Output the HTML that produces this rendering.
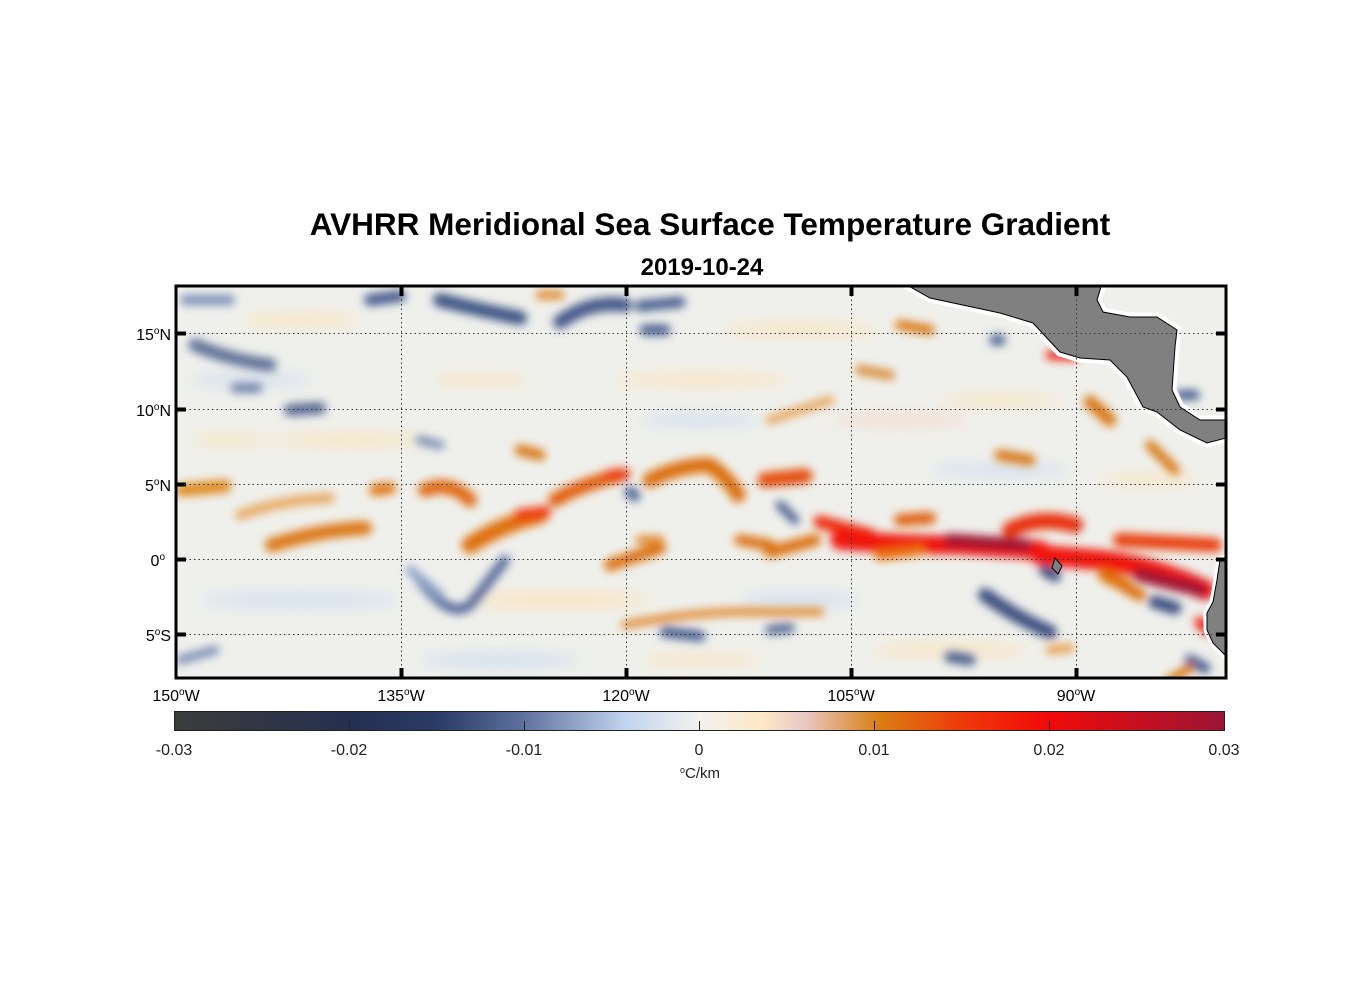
<!DOCTYPE html>
<html><head><meta charset="utf-8"><style>
html,body{margin:0;padding:0;background:#fff;}
svg{display:block;font-family:"Liberation Sans",Arial,sans-serif;}
</style></head><body>
<svg width="1356" height="1000" viewBox="0 0 1356 1000" xmlns="http://www.w3.org/2000/svg">
<defs>
<clipPath id="mc"><rect x="176" y="286" width="1050" height="392"/></clipPath>
<filter id="b1" x="-20%" y="-20%" width="140%" height="140%"><feGaussianBlur stdDeviation="4.5"/></filter>
<filter id="b2" x="-20%" y="-20%" width="140%" height="140%"><feGaussianBlur stdDeviation="7"/></filter>
<linearGradient id="cb" x1="0" x2="1" y1="0" y2="0">
<stop offset="0" stop-color="#3c3c3c"/>
<stop offset="0.17" stop-color="#253050"/>
<stop offset="0.25" stop-color="#2a3b66"/>
<stop offset="0.33" stop-color="#5d6f9c"/>
<stop offset="0.43" stop-color="#c2d4ee"/>
<stop offset="0.5" stop-color="#f2f2ee"/>
<stop offset="0.56" stop-color="#fde7c6"/>
<stop offset="0.6" stop-color="#e8c8c4"/>
<stop offset="0.67" stop-color="#d98014"/>
<stop offset="0.75" stop-color="#ee3a0a"/>
<stop offset="0.83" stop-color="#f20a0a"/>
<stop offset="1" stop-color="#9b1535"/>
</linearGradient>
</defs>
<text x="710" y="235" text-anchor="middle" font-size="31.5" font-weight="bold">AVHRR Meridional Sea Surface Temperature Gradient</text>
<text x="702" y="275" text-anchor="middle" font-size="24" font-weight="bold">2019-10-24</text>
<g clip-path="url(#mc)">
<rect x="176" y="286" width="1050" height="392" fill="#eff0ec"/>
<g filter="url(#b2)" opacity="0.7">
<ellipse cx="300" cy="320" rx="60" ry="7" fill="#fde2b8"/>
<ellipse cx="350" cy="440" rx="80" ry="7" fill="#fde2b8"/>
<ellipse cx="700" cy="380" rx="90" ry="7" fill="#fde2b8"/>
<ellipse cx="560" cy="600" rx="90" ry="9" fill="#fde2b8"/>
<ellipse cx="800" cy="330" rx="80" ry="7" fill="#fde2b8"/>
<ellipse cx="900" cy="420" rx="70" ry="7" fill="#f4d8c8"/>
<ellipse cx="300" cy="600" rx="100" ry="7" fill="#c8d8f0"/>
<ellipse cx="500" cy="660" rx="80" ry="7" fill="#c8d8f0"/>
<ellipse cx="800" cy="600" rx="60" ry="7" fill="#c8d8f0"/>
<ellipse cx="700" cy="420" rx="60" ry="6" fill="#c8d8f0"/>
<ellipse cx="1000" cy="470" rx="70" ry="6" fill="#c8d8f0"/>
<ellipse cx="250" cy="380" rx="60" ry="6" fill="#c8d8f0"/>
<ellipse cx="950" cy="650" rx="80" ry="7" fill="#fde2b8"/>
<ellipse cx="230" cy="440" rx="40" ry="6" fill="#fde2b8"/>
<ellipse cx="480" cy="380" rx="50" ry="6" fill="#fde2b8"/>
<ellipse cx="1000" cy="400" rx="60" ry="6" fill="#fde2b8"/>
<ellipse cx="1150" cy="480" rx="50" ry="6" fill="#fde2b8"/>
<ellipse cx="700" cy="660" rx="60" ry="6" fill="#fde2b8"/>
</g>
<g filter="url(#b1)" fill="none" stroke-linecap="round" stroke-linejoin="round">
<path d="M440 300 Q480 310 520 318" stroke="#3e5585" stroke-width="14"/>
<path d="M560 322 Q590 300 625 305" stroke="#44598a" stroke-width="14"/>
<path d="M640 306 L680 302" stroke="#4a5f90" stroke-width="11"/>
<path d="M370 300 L400 296" stroke="#4a5f90" stroke-width="12"/>
<path d="M645 330 L665 330" stroke="#4a5f90" stroke-width="11"/>
<path d="M195 345 Q230 360 270 365" stroke="#607299" stroke-width="13"/>
<path d="M290 410 L320 408" stroke="#5a6c96" stroke-width="12"/>
<path d="M235 388 L258 388" stroke="#6a7ca4" stroke-width="9"/>
<path d="M185 300 L230 300" stroke="#7d8fb8" stroke-width="10"/>
<path d="M420 580 Q450 620 470 605 Q490 580 505 560" stroke="#56699a" stroke-width="10"/>
<path d="M410 570 L440 595" stroke="#8aa0c8" stroke-width="9"/>
<path d="M665 632 L700 636" stroke="#4c6090" stroke-width="11"/>
<path d="M770 630 L790 628" stroke="#5a6c96" stroke-width="10"/>
<path d="M985 595 Q1020 620 1050 632" stroke="#3c5080" stroke-width="14"/>
<path d="M1155 602 L1175 608" stroke="#3c5080" stroke-width="13"/>
<path d="M1045 570 L1055 576" stroke="#3c5080" stroke-width="12"/>
<path d="M950 657 L970 660" stroke="#4a5f90" stroke-width="11"/>
<path d="M1190 660 L1205 668" stroke="#4a5f90" stroke-width="11"/>
<path d="M995 340 L1000 340" stroke="#4a5f90" stroke-width="11"/>
<path d="M1180 395 L1195 395" stroke="#4a5f90" stroke-width="10"/>
<path d="M630 492 L635 496" stroke="#4a5f90" stroke-width="11"/>
<path d="M780 505 L795 520" stroke="#4a5f90" stroke-width="9"/>
<path d="M180 660 L215 650" stroke="#7d8fb8" stroke-width="9"/>
<path d="M420 440 L440 445" stroke="#7d8fb8" stroke-width="9"/>
<path d="M182 490 L225 486" stroke="#e08a20" stroke-width="13"/>
<path d="M240 515 Q280 500 330 498" stroke="#e8a860" stroke-width="10"/>
<path d="M272 545 Q320 530 365 528" stroke="#dc7812" stroke-width="14"/>
<path d="M375 490 L390 488" stroke="#e07814" stroke-width="12"/>
<path d="M425 490 Q450 480 470 500" stroke="#e06a12" stroke-width="14"/>
<path d="M470 545 Q500 525 540 515" stroke="#e0700e" stroke-width="17"/>
<path d="M520 515 L545 512" stroke="#f03a08" stroke-width="12"/>
<path d="M555 500 Q580 485 620 475" stroke="#e2600e" stroke-width="14"/>
<path d="M610 475 L625 474" stroke="#ee3a08" stroke-width="11"/>
<path d="M650 480 Q680 465 710 465 Q730 480 738 495" stroke="#dc7010" stroke-width="15"/>
<path d="M765 480 L805 476" stroke="#e4500c" stroke-width="15"/>
<path d="M610 565 Q640 555 660 548" stroke="#dc7010" stroke-width="12"/>
<path d="M640 540 L660 540" stroke="#e08a30" stroke-width="9"/>
<path d="M740 540 L770 545" stroke="#dc7010" stroke-width="11"/>
<path d="M770 552 L815 540" stroke="#dc7010" stroke-width="12"/>
<path d="M625 625 Q700 610 760 612 L820 612" stroke="#e08a30" stroke-width="8"/>
<path d="M820 522 L870 535" stroke="#ee2a08" stroke-width="13"/>
<path d="M840 540 Q900 545 960 545 L1040 550" stroke="#f01808" stroke-width="19"/>
<path d="M900 520 L930 518" stroke="#e06010" stroke-width="12"/>
<path d="M880 555 L920 550" stroke="#e87010" stroke-width="11"/>
<path d="M950 540 L1025 545" stroke="#a01530" stroke-width="13"/>
<path d="M1010 530 Q1040 515 1075 525" stroke="#e8300a" stroke-width="16"/>
<path d="M1040 555 L1100 560 Q1150 565 1205 590" stroke="#f01808" stroke-width="20"/>
<path d="M1140 575 L1200 590" stroke="#a01530" stroke-width="14"/>
<path d="M1120 540 L1215 545" stroke="#ea400c" stroke-width="14"/>
<path d="M1105 575 L1125 585" stroke="#e07010" stroke-width="14"/>
<path d="M1130 590 L1140 595" stroke="#dc7010" stroke-width="12"/>
<path d="M1200 622 L1208 630" stroke="#ee1a08" stroke-width="11"/>
<path d="M1090 402 L1110 420" stroke="#d87818" stroke-width="13"/>
<path d="M1000 455 L1030 460" stroke="#d87818" stroke-width="11"/>
<path d="M860 370 L890 375" stroke="#d89040" stroke-width="10"/>
<path d="M900 325 L930 330" stroke="#d87818" stroke-width="10"/>
<path d="M1050 355 L1075 356" stroke="#ee1a08" stroke-width="9"/>
<path d="M1150 445 L1175 470" stroke="#d87818" stroke-width="10"/>
<path d="M1170 680 L1190 668" stroke="#d87818" stroke-width="9"/>
<path d="M1050 650 L1070 648" stroke="#e8a050" stroke-width="9"/>
<path d="M520 450 L540 455" stroke="#d87818" stroke-width="11"/>
<path d="M540 295 L560 295" stroke="#e08a30" stroke-width="9"/>
<path d="M770 420 Q800 410 830 400" stroke="#e8a860" stroke-width="9"/>
</g>
<path d="M898 280 L930 298 L1000 313 L1033 323 L1060 352 L1080 358 L1110 360 L1127 377 L1143 407 L1157 412 L1180 430 L1207 443 L1230 437 L1230 420 L1200 420 L1180 407 L1172 390 L1175 347 L1177 330 L1157 317 L1130 317 L1103 312 L1097 300 L1103 280 Z" fill="#808080" stroke="#fff" stroke-width="9"/>
<path d="M898 280 L930 298 L1000 313 L1033 323 L1060 352 L1080 358 L1110 360 L1127 377 L1143 407 L1157 412 L1180 430 L1207 443 L1230 437 L1230 420 L1200 420 L1180 407 L1172 390 L1175 347 L1177 330 L1157 317 L1130 317 L1103 312 L1097 300 L1103 280 Z" fill="#808080" stroke="#000" stroke-width="1"/>
<path d="M1230 558 L1220 560 L1217 580 L1213 602 L1207 613 L1207 630 L1213 643 L1230 660 Z" fill="#808080" stroke="#fff" stroke-width="7"/>
<path d="M1230 558 L1220 560 L1217 580 L1213 602 L1207 613 L1207 630 L1213 643 L1230 660 Z" fill="#808080" stroke="#000" stroke-width="1"/>
<path d="M1055 558 L1062 566 L1058 574 L1052 568 Z" fill="#808080" stroke="#000" stroke-width="1"/>
<g stroke="#333" stroke-width="1" stroke-dasharray="1.5 3">
<line x1="176" x2="1226" y1="333.5" y2="333.5"/>
<line x1="176" x2="1226" y1="409.5" y2="409.5"/>
<line x1="176" x2="1226" y1="484.5" y2="484.5"/>
<line x1="176" x2="1226" y1="559.5" y2="559.5"/>
<line x1="176" x2="1226" y1="634.5" y2="634.5"/>
<line x1="401.5" x2="401.5" y1="286" y2="678"/>
<line x1="626.5" x2="626.5" y1="286" y2="678"/>
<line x1="851.5" x2="851.5" y1="286" y2="678"/>
<line x1="1076.5" x2="1076.5" y1="286" y2="678"/>
</g>
</g>
<rect x="176" y="286" width="1050" height="392" fill="none" stroke="#000" stroke-width="3"/>
<g stroke="#000" stroke-width="4">
<line x1="176" x2="186" y1="333.5" y2="333.5"/><line x1="1216" x2="1226" y1="333.5" y2="333.5"/>
<line x1="176" x2="186" y1="409.5" y2="409.5"/><line x1="1216" x2="1226" y1="409.5" y2="409.5"/>
<line x1="176" x2="186" y1="484.5" y2="484.5"/><line x1="1216" x2="1226" y1="484.5" y2="484.5"/>
<line x1="176" x2="186" y1="559.5" y2="559.5"/><line x1="1216" x2="1226" y1="559.5" y2="559.5"/>
<line x1="176" x2="186" y1="634.5" y2="634.5"/><line x1="1216" x2="1226" y1="634.5" y2="634.5"/>
<line x1="401.5" x2="401.5" y1="286" y2="296"/><line x1="401.5" x2="401.5" y1="668" y2="678"/>
<line x1="626.5" x2="626.5" y1="286" y2="296"/><line x1="626.5" x2="626.5" y1="668" y2="678"/>
<line x1="851.5" x2="851.5" y1="286" y2="296"/><line x1="851.5" x2="851.5" y1="668" y2="678"/>
<line x1="1076.5" x2="1076.5" y1="286" y2="296"/><line x1="1076.5" x2="1076.5" y1="668" y2="678"/>
</g>
<g font-size="16" text-anchor="end">
<text x="171" y="340">15<tspan font-size="10" dy="-6">o</tspan><tspan dy="6">N</tspan></text>
<text x="171" y="416">10<tspan font-size="10" dy="-6">o</tspan><tspan dy="6">N</tspan></text>
<text x="171" y="491">5<tspan font-size="10" dy="-6">o</tspan><tspan dy="6">N</tspan></text>
<text x="165" y="566">0<tspan font-size="10" dy="-6">o</tspan></text>
<text x="171" y="641">5<tspan font-size="10" dy="-6">o</tspan><tspan dy="6">S</tspan></text>
</g>
<g font-size="16" text-anchor="middle">
<text x="176" y="701">150<tspan font-size="10" dy="-6">o</tspan><tspan dy="6">W</tspan></text>
<text x="401" y="701">135<tspan font-size="10" dy="-6">o</tspan><tspan dy="6">W</tspan></text>
<text x="626" y="701">120<tspan font-size="10" dy="-6">o</tspan><tspan dy="6">W</tspan></text>
<text x="851" y="701">105<tspan font-size="10" dy="-6">o</tspan><tspan dy="6">W</tspan></text>
<text x="1076" y="701">90<tspan font-size="10" dy="-6">o</tspan><tspan dy="6">W</tspan></text>
</g>
<rect x="174.5" y="711.5" width="1050" height="19" fill="url(#cb)" stroke="#222" stroke-width="1"/>
<g stroke="#222" stroke-width="1">
<line x1="349.5" x2="349.5" y1="730" y2="721"/>
<line x1="524.5" x2="524.5" y1="730" y2="721"/>
<line x1="699.5" x2="699.5" y1="730" y2="721"/>
<line x1="874.5" x2="874.5" y1="730" y2="721"/>
<line x1="1049.5" x2="1049.5" y1="730" y2="721"/>
</g>
<g font-size="16" text-anchor="middle" fill="#222">
<text x="174" y="755">-0.03</text>
<text x="349" y="755">-0.02</text>
<text x="524" y="755">-0.01</text>
<text x="699" y="755">0</text>
<text x="874" y="755">0.01</text>
<text x="1049" y="755">0.02</text>
<text x="1224" y="755">0.03</text>
<text x="700" y="778" font-size="15"><tspan font-size="9" dy="-5">o</tspan><tspan dy="5">C/km</tspan></text>
</g>
</svg>
</body></html>
